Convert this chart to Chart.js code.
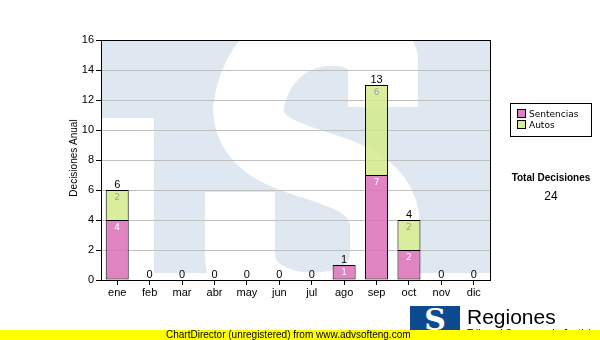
<!DOCTYPE html>
<html>
<head>
<meta charset="utf-8">
<script src="https://cdn.jsdelivr.net/npm/chart.js@4.4.1/dist/chart.umd.min.js"></script>
<style>
  body { margin: 0; background: #fff; }
  #wrap { position: relative; width: 600px; height: 340px; overflow: hidden; font-family: "Liberation Sans", Arial, sans-serif; }
  #chart { position: absolute; left: 0; top: 0; }
  .legend { position: absolute; left: 510px; top: 103px; width: 80px; height: 32px; border: 1px solid #000; font-family: "DejaVu Sans", sans-serif; font-size: 9px; color: #000; }
  .legend .item { position: absolute; left: 6px; height: 11px; line-height: 11px; white-space: nowrap; }
  .legend .sw { display: inline-block; width: 7px; height: 7px; border: 1px solid #000; vertical-align: -1px; margin-right: 3px; }
  .total-title { position: absolute; left: 500px; width: 102px; top: 172px; text-align: center; font-weight: bold; font-size: 10px; }
  .total-value { position: absolute; left: 500px; width: 102px; top: 189px; text-align: center; font-size: 12px; }
  .logo { position: absolute; left: 410px; top: 306px; width: 50px; height: 27px; background: #0d4a8f; color: #fff; font-family: "DejaVu Serif", serif; font-weight: bold; font-size: 30px; line-height: 27px; text-align: center; overflow: hidden; }
  .brand { position: absolute; left: 467px; top: 305px; font-size: 21px; line-height: 24px; color: #000; }
  .brand-sub { position: absolute; left: 467px; top: 328px; font-size: 10px; line-height: 12px; color: #000; }
  .cd { position: absolute; left: 0; top: 330px; width: 600px; height: 10px; background: #ffff00; font-size: 10px; line-height: 10px; color: #000; }
  .cd span { position: absolute; left: 166px; top: 0; white-space: nowrap; }
</style>
</head>
<body>
<div id="wrap">
  <canvas id="chart" width="600" height="340"></canvas>
  <div class="legend">
    <div class="item" style="top:5px"><span class="sw" style="background:#de80c0"></span>Sentencias</div>
    <div class="item" style="top:16px"><span class="sw" style="background:#d8ec98"></span>Autos</div>
  </div>
  <div class="total-title">Total Decisiones</div>
  <div class="total-value" id="totalValue"></div>
  <div class="logo">S</div>
  <div class="brand">Regiones</div>
  <div class="brand-sub">Tribunal Supremo de Justicia</div>
  <div class="cd"><span>ChartDirector (unregistered) from www.advsofteng.com</span></div>
</div>
<script>
// Data
const months = ['ene', 'feb', 'mar', 'abr', 'may', 'jun', 'jul', 'ago', 'sep', 'oct', 'nov', 'dic'];
const sentencias = [4, 0, 0, 0, 0, 0, 0, 1, 7, 2, 0, 0];
const autos = [2, 0, 0, 0, 0, 0, 0, 0, 6, 2, 0, 0];
const yMax = 16;
const yStep = 2;

const axisFont = { family: '"Liberation Sans", Arial, sans-serif', size: 11 };

// Light "TS" watermark behind the plot
const watermark = {
  id: 'watermark',
  beforeDraw(chart) {
    const { ctx, chartArea: a } = chart;
    const L = a.left, T = a.top, W = a.right - a.left, H = 233;
    ctx.save();
    ctx.beginPath();
    ctx.rect(L, T, W, H);
    ctx.clip();
    ctx.fillStyle = '#dfe8f1';
    ctx.fillRect(L, T, W, H);
    ctx.fillStyle = '#fff';
    ctx.fillRect(L, T + 78, 53, H);
    ctx.strokeStyle = '#fff';
    ctx.lineWidth = 70;
    ctx.lineCap = 'butt';
    ctx.beginPath();
    ctx.moveTo(L + 282, T + 67);
    ctx.lineTo(L + 282, T + 20);
    ctx.bezierCurveTo(L + 269, T - 25, L + 159, T - 25, L + 147, T + 70);
    ctx.bezierCurveTo(L + 152, T + 140, L + 280, T + 110, L + 284, T + 185);
    ctx.lineTo(L + 284, T + 215);
    ctx.bezierCurveTo(L + 284, T + 285, L + 139, T + 285, L + 139, T + 215);
    ctx.lineTo(L + 139, T + 152);
    ctx.stroke();
    ctx.restore();
  }
};

// Frame and value labels
const labels = {
  id: 'labels',
  afterDatasetsDraw(chart) {
    const { ctx, chartArea: a, scales } = chart;
    ctx.save();
    ctx.strokeStyle = '#000';
    ctx.lineWidth = 1;
    ctx.strokeRect(Math.round(a.left) + 0.5, Math.round(a.top) + 0.5, Math.round(a.right - a.left), Math.round(a.bottom - a.top));

    const m0 = chart.getDatasetMeta(0);
    const m1 = chart.getDatasetMeta(1);
    ctx.textAlign = 'center';
    months.forEach((m, i) => {
      const x = m0.data[i].x;
      const total = sentencias[i] + autos[i];
      ctx.font = '11px "Liberation Sans", Arial, sans-serif';
      ctx.fillStyle = '#000';
      ctx.textBaseline = 'alphabetic';
      ctx.fillText(String(total), x, scales.y.getPixelForValue(total) - 2);

      ctx.font = '9px "DejaVu Sans", sans-serif';
      ctx.textBaseline = 'middle';
      if (sentencias[i] > 0) {
        ctx.fillStyle = '#ffffff';
        ctx.fillText(String(sentencias[i]), x, m0.data[i].y + 8);
      }
      if (autos[i] > 0) {
        ctx.fillStyle = '#a0a0a0';
        ctx.fillText(String(autos[i]), x, m1.data[i].y + 8);
      }
    });

    // y axis title
    ctx.translate(74, (a.top + a.bottom) / 2 - 2);
    ctx.rotate(-Math.PI / 2);
    ctx.font = '10px "Liberation Sans", Arial, sans-serif';
    ctx.fillStyle = '#000';
    ctx.textBaseline = 'middle';
    ctx.fillText('Decisiones Anual', 0, 0);
    ctx.restore();
  }
};

document.getElementById('totalValue').textContent =
  sentencias.reduce((s, v) => s + v, 0) + autos.reduce((s, v) => s + v, 0);

new Chart(document.getElementById('chart'), {
  type: 'bar',
  data: {
    labels: months,
    datasets: [
      {
        label: 'Sentencias',
        data: sentencias,
        backgroundColor: 'rgba(220, 115, 186, 0.88)',
        borderColor: '#000',
        borderWidth: 1,
        borderSkipped: false,
        stack: 's'
      },
      {
        label: 'Autos',
        data: autos,
        backgroundColor: 'rgba(212, 234, 140, 0.85)',
        borderColor: '#000',
        borderWidth: 1,
        borderSkipped: 'start',
        stack: 's'
      }
    ]
  },
  options: {
    responsive: false,
    animation: false,
    events: [],
    categoryPercentage: 1,
    barPercentage: 0.71,
    layout: { padding: { top: 40, right: 110, left: 0, bottom: 0 } },
    plugins: {
      legend: { display: false },
      tooltip: { enabled: false }
    },
    scales: {
      x: {
        stacked: true,
        offset: true,
        grid: { offset: false, drawOnChartArea: false, tickLength: 5, tickColor: '#000' },
        border: { color: '#000' },
        ticks: { color: '#000', font: axisFont, padding: 1, maxRotation: 0 },
        afterFit(s) { s.height = 60; }
      },
      y: {
        stacked: true,
        min: 0,
        max: yMax,
        grid: { color: '#c0c0c0', tickLength: 5, tickColor: '#000' },
        border: { color: '#000' },
        ticks: { stepSize: yStep, color: '#000', font: axisFont, padding: 2 },
        afterFit(s) { s.width = 101; }
      }
    }
  },
  plugins: [watermark, labels]
});
</script>
</body>
</html>
